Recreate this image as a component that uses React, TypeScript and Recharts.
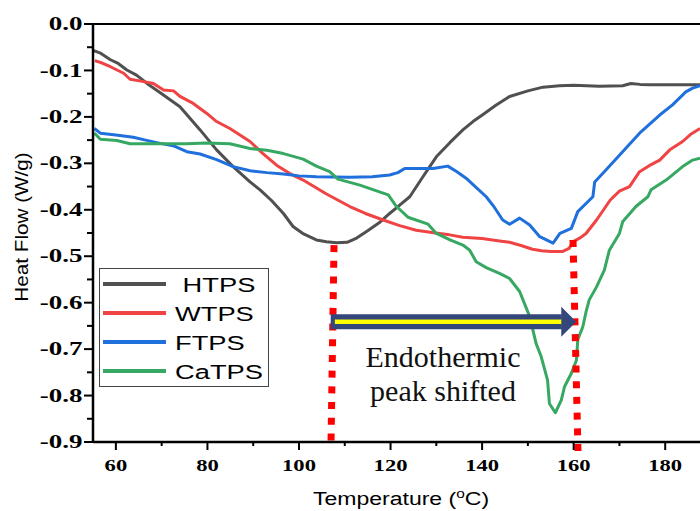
import React from "react";
import { LineChart, Line, XAxis, YAxis, ReferenceLine, ReferenceDot, Legend } from "recharts";

// DSC heat flow curves, temperature in °C vs heat flow in W/g
const htpsTemp = [55, 56.5, 58.8, 60.5, 62.4, 64.5, 66.8, 70, 74, 78.4, 82, 85.6, 89.3, 91.5, 94, 96.6, 98.7, 101, 103.8, 106, 108.2, 110.5, 112.6, 115, 117.5, 119.8, 122, 124.2, 127, 130, 133, 135.8, 138, 140.2, 143, 146, 150, 153.3, 156.9, 160, 165.6, 170.7, 172.5, 174.5, 176.6, 182, 187.6];
const htpsFlow = [-0.057, -0.062, -0.077, -0.085, -0.099, -0.11, -0.128, -0.15, -0.178, -0.228, -0.271, -0.307, -0.34, -0.357, -0.38, -0.408, -0.436, -0.452, -0.465, -0.469, -0.471, -0.47, -0.461, -0.445, -0.428, -0.408, -0.39, -0.372, -0.33, -0.286, -0.255, -0.228, -0.21, -0.195, -0.175, -0.156, -0.144, -0.136, -0.133, -0.132, -0.134, -0.133, -0.128, -0.13, -0.131, -0.131, -0.131];

const wtpsTemp = [55.4, 57, 58.8, 61.7, 63.1, 65.5, 68.2, 70.4, 72.6, 74, 76.9, 79.8, 82, 84.9, 87.1, 89.3, 92, 95.1, 98, 100.9, 106, 111.1, 114.5, 118.4, 122, 125.6, 129, 132.9, 135.8, 140, 143.8, 146, 148.5, 151, 153, 155, 157.5, 159, 160, 161.5, 162.7, 165, 168, 170, 172.2, 174.4, 176.5, 178.8, 181, 183.8, 185.5, 187.6];
const wtpsFlow = [-0.079, -0.084, -0.092, -0.106, -0.119, -0.123, -0.128, -0.142, -0.144, -0.156, -0.171, -0.192, -0.21, -0.225, -0.239, -0.253, -0.278, -0.304, -0.322, -0.336, -0.366, -0.393, -0.408, -0.422, -0.434, -0.444, -0.449, -0.454, -0.459, -0.462, -0.467, -0.47, -0.477, -0.485, -0.488, -0.49, -0.49, -0.483, -0.468, -0.46, -0.451, -0.422, -0.379, -0.36, -0.35, -0.318, -0.305, -0.293, -0.271, -0.253, -0.238, -0.225];

const ftpsTemp = [55.3, 56.6, 60, 63.8, 66.5, 69.7, 72.5, 75.5, 78.4, 82, 85.6, 89.3, 93, 96.6, 100, 103.8, 111.1, 116, 119.8, 121.6, 123.1, 126, 129.3, 132.5, 134.5, 136.5, 138.5, 140.9, 142.7, 144.5, 146, 148.2, 150.4, 152.6, 155.5, 157, 159.5, 160.9, 164.2, 164.6, 167.1, 170.7, 174.4, 178.8, 181.6, 184.5, 186, 187.6];
const ftpsFlow = [-0.225, -0.235, -0.239, -0.244, -0.25, -0.257, -0.262, -0.275, -0.28, -0.292, -0.307, -0.316, -0.32, -0.323, -0.327, -0.329, -0.33, -0.329, -0.325, -0.32, -0.311, -0.311, -0.311, -0.306, -0.318, -0.332, -0.35, -0.372, -0.395, -0.422, -0.431, -0.418, -0.433, -0.458, -0.472, -0.451, -0.44, -0.404, -0.372, -0.34, -0.314, -0.275, -0.235, -0.196, -0.174, -0.146, -0.138, -0.133];

const catpsTemp = [55.3, 56.6, 60.2, 63.1, 70, 75.5, 79.8, 84.9, 89.3, 93, 96.6, 100.9, 103.8, 106.7, 108.5, 113.3, 119.5, 121.3, 123.8, 128.2, 130, 133, 135.8, 137.3, 138.7, 141, 143.8, 146, 148.2, 150.4, 151.8, 152.9, 154.3, 154.7, 156, 157.3, 158, 159.5, 160.6, 160.9, 162, 162.7, 163.4, 165, 166.7, 167.8, 170, 170.7, 173.6, 176.2, 176.9, 180.2, 183.8, 186, 187.6];
const catpsFlow = [-0.235, -0.248, -0.251, -0.258, -0.258, -0.258, -0.256, -0.258, -0.268, -0.272, -0.279, -0.291, -0.306, -0.318, -0.334, -0.347, -0.368, -0.393, -0.416, -0.431, -0.451, -0.465, -0.476, -0.487, -0.512, -0.525, -0.537, -0.548, -0.576, -0.63, -0.688, -0.716, -0.767, -0.817, -0.837, -0.81, -0.781, -0.752, -0.724, -0.68, -0.652, -0.62, -0.594, -0.566, -0.53, -0.487, -0.451, -0.426, -0.393, -0.372, -0.357, -0.336, -0.307, -0.293, -0.289];

const seriesNames = [" HTPS", "WTPS", "FTPS", "CaTPS"];
const seriesColors = ["#505050", "#f04343", "#1f6fdc", "#37a862"];

const xTicks = [60, 70, 80, 90, 100, 110, 120, 130, 140, 150, 160, 170, 180];
const yTicks = [0, -0.05, -0.1, -0.15, -0.2, -0.25, -0.3, -0.35, -0.4, -0.45, -0.5, -0.55, -0.6, -0.65, -0.7, -0.75, -0.8, -0.85, -0.9];

// peak markers (onset of the two endotherms) and the shift arrow
const peakLow = [{ x: 107.65, y: -0.476 }, { x: 107.0, y: -0.9 }];
const peakHigh = [{ x: 159.86, y: -0.465 }, { x: 160.95, y: -0.922 }];
const arrowY = -0.641;
const arrowFrom = 106.93;
const arrowHeadBase = 157.4;
const arrowTip = 160.57;

const zip = (t: number[], h: number[]) => t.map((v, i) => ({ t: v, h: h[i] }));
const series = [
  zip(htpsTemp, htpsFlow),
  zip(wtpsTemp, wtpsFlow),
  zip(ftpsTemp, ftpsFlow),
  zip(catpsTemp, catpsFlow),
];

const serif = "'Liberation Serif', 'Times New Roman', serif";
const sans = "'Liberation Sans', Arial, sans-serif";

const XTick = ({ x, y, payload }: any) => {
  const major = payload.value % 20 === 0;
  return (
    <g>
      <line x1={x} x2={x} y1={y} y2={y + (major ? 8 : 4)} stroke="#000" strokeWidth={2} />
      {major && (
        <text
          transform={`translate(${x},${y + 28.5}) scale(1.33,1)`}
          textAnchor="middle"
          fontFamily={serif}
          fontWeight="bold"
          fontSize={17}
          fill="#000"
        >
          {payload.value}
        </text>
      )}
    </g>
  );
};

const YTick = ({ x, y, payload }: any) => {
  const v = payload.value;
  const major = Math.abs(v * 10 - Math.round(v * 10)) < 1e-6;
  return (
    <g>
      <line x1={x - (major ? 9 : 6)} x2={x} y1={y} y2={y} stroke="#000" strokeWidth={2} />
      {major && (
        <text
          transform={`translate(${x - 10.5},${y}) scale(1.5,1)`}
          dy="0.34em"
          textAnchor="end"
          fontFamily={serif}
          fontWeight="bold"
          fontSize={18}
          fill="#000"
        >
          {v === 0 ? "0.0" : v.toFixed(1)}
        </text>
      )}
    </g>
  );
};

const XLabel = ({ viewBox }: any) => (
  <text
    transform={`translate(${viewBox.x + viewBox.width / 2 + 4.5},${viewBox.y + 63}) scale(1.28,1)`}
    textAnchor="middle"
    fontFamily={sans}
    fontSize={18}
    fill="#000"
  >
    <tspan>Temperature (</tspan>
    <tspan fontSize={12} dy={-7}>o</tspan>
    <tspan dy={7}>C)</tspan>
  </text>
);

const YLabel = ({ viewBox }: any) => (
  <text
    transform={`translate(28,${viewBox.y + viewBox.height / 2 - 6}) rotate(-90) scale(1.15,1)`}
    textAnchor="middle"
    fontFamily={sans}
    fontSize={18}
    fill="#000"
  >
    Heat Flow (W/g)
  </text>
);

// legend keeps the series order, not the default alphabetical one
const LegendBox = ({ payload }: any) => {
  const items = [...(payload || [])].sort(
    (a: any, b: any) => seriesNames.indexOf(a.value) - seriesNames.indexOf(b.value)
  );
  return (
    <svg width={170} height={119} style={{ display: "block" }}>
      <rect x={0.5} y={0.5} width={169} height={118} fill="#fff" stroke="#444" strokeWidth={1} />
      {items.map((p: any, i: number) => {
        const cy = 16 + i * 29;
        return (
          <g key={i}>
            <line x1={4} x2={67} y1={cy} y2={cy} stroke={p.color} strokeWidth={4} />
            <text
              transform={`translate(76,${cy}) scale(1.3,1)`}
              dy="0.36em"
              fontFamily={sans}
              fontSize={21}
              fill="#000"
              xmlSpace="preserve"
              style={{ whiteSpace: "pre" }}
            >
              {p.value}
            </text>
          </g>
        );
      })}
    </svg>
  );
};

const ArrowHead = ({ cx, cy }: any) => (
  <path d={`M${cx},${cy} L${cx - 15},${cy - 15} L${cx - 15},${cy + 15} Z`} fill="#33477a" />
);

const ShiftNote = ({ cx, cy }: any) => (
  <text textAnchor="middle" fontFamily={serif} fontSize={30} fill="#111">
    <tspan x={cx} y={cy}>Endothermic</tspan>
    <tspan x={cx} y={cy + 34}>peak shifted</tspan>
  </text>
);

export default function App() {
  return (
    <div style={{ position: "absolute", left: 0, top: 0, width: 700, height: 511, background: "#fff", overflow: "hidden" }}>
      <LineChart width={700} height={511} margin={{ top: 24, right: 0, bottom: 0, left: 0 }}>
        <XAxis
          type="number"
          dataKey="t"
          domain={[55, 187.6]}
          allowDataOverflow
          ticks={xTicks}
          interval={0}
          height={69}
          tickSize={0}
          tickMargin={0}
          tickLine={false}
          tick={<XTick />}
          axisLine={{ stroke: "#000", strokeWidth: 2.5 }}
          label={<XLabel />}
        />
        <YAxis
          type="number"
          domain={[-0.9, 0]}
          allowDataOverflow
          ticks={yTicks}
          interval={0}
          width={93}
          tickSize={0}
          tickMargin={0}
          tickLine={false}
          tick={<YTick />}
          axisLine={{ stroke: "#000", strokeWidth: 2.5 }}
          label={<YLabel />}
        />
        <ReferenceLine y={0} stroke="#000" strokeWidth={2} />
        {series.map((d, i) => (
          <Line
            key={seriesNames[i]}
            data={d}
            dataKey="h"
            name={seriesNames[i]}
            type="linear"
            stroke={seriesColors[i]}
            strokeWidth={3}
            strokeLinejoin="round"
            dot={false}
            activeDot={false}
            isAnimationActive={false}
          />
        ))}
        <ReferenceLine segment={peakLow} stroke="#ff0000" strokeWidth={7} strokeDasharray="7 8.7" ifOverflow="visible" />
        <ReferenceLine segment={peakHigh} stroke="#ff0000" strokeWidth={7} strokeDasharray="7 8.7" ifOverflow="visible" />
        <ReferenceLine
          segment={[{ x: arrowFrom, y: arrowY }, { x: arrowHeadBase, y: arrowY }]}
          stroke="#33477a"
          strokeWidth={15}
        />
        <ReferenceDot x={arrowTip} y={arrowY} r={0} shape={<ArrowHead />} />
        <ReferenceLine
          segment={[{ x: arrowFrom + 0.9, y: arrowY }, { x: 158.8, y: arrowY }]}
          stroke="#ffff00"
          strokeWidth={4.5}
        />
        <ReferenceDot x={131.46} y={-0.7385} r={0} shape={<ShiftNote />} />
        <Legend
          layout="vertical"
          align="center"
          verticalAlign="middle"
          content={<LegendBox />}
          wrapperStyle={{ left: 99, top: 268, width: 170, height: 119 }}
        />
      </LineChart>
    </div>
  );
}
